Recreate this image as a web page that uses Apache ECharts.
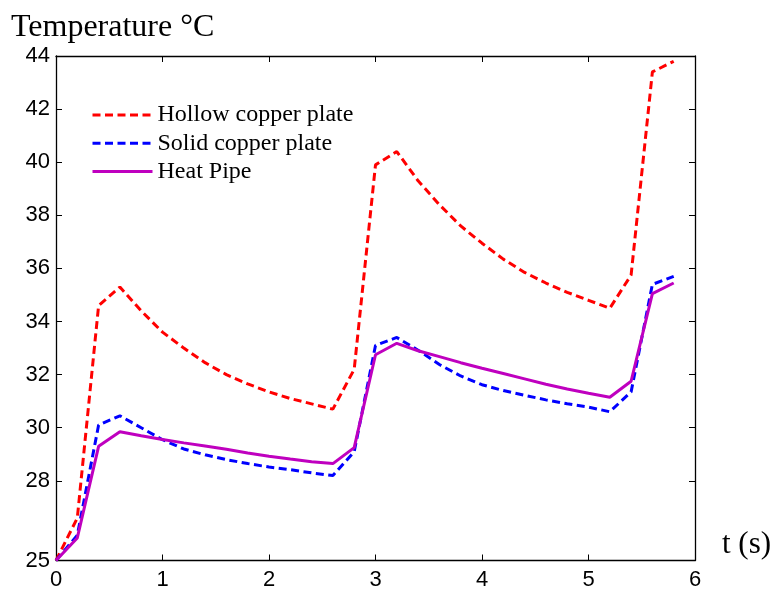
<!DOCTYPE html>
<html>
<head>
<meta charset="utf-8">
<title>Temperature vs time</title>
<script src="https://cdn.jsdelivr.net/npm/echarts@6/dist/echarts.min.js"></script>
<style>
  html, body { margin: 0; padding: 0; background: #fff; }
  #chart { width: 775px; height: 596px; }
</style>
</head>
<body>
<div id="chart"></div>
<script>
// Sample times (s)
const times = [0, 0.2, 0.4, 0.6, 0.8, 1.0, 1.2, 1.4, 1.6, 1.8, 2.0, 2.2, 2.4, 2.6, 2.8,
               3.0, 3.2, 3.4, 3.6, 3.8, 4.0, 4.2, 4.4, 4.6, 4.8, 5.0, 5.2, 5.4, 5.6, 5.8];

// Temperatures (°C)
const hollowCopper = [25.0, 26.6, 34.6, 35.3, 34.4, 33.6, 33.0, 32.45, 32.0, 31.65, 31.35, 31.1, 30.9, 30.7, 32.2,
                      39.9, 40.4, 39.3, 38.4, 37.6, 36.95, 36.35, 35.85, 35.45, 35.1, 34.8, 34.5, 35.75, 43.4, 43.8];
const solidCopper  = [25.0, 25.95, 30.1, 30.45, 30.0, 29.55, 29.2, 28.98, 28.8, 28.65, 28.52, 28.42, 28.3, 28.2, 29.1,
                      33.1, 33.4, 32.92, 32.38, 31.95, 31.62, 31.4, 31.22, 31.05, 30.9, 30.78, 30.6, 31.35, 35.4, 35.7];
const heatPipe     = [25.0, 25.85, 29.3, 29.85, 29.7, 29.56, 29.43, 29.31, 29.19, 29.05, 28.93, 28.82, 28.72, 28.65, 29.25,
                      32.75, 33.18, 32.9, 32.68, 32.45, 32.24, 32.04, 31.84, 31.64, 31.46, 31.3, 31.15, 31.75, 35.05, 35.45];

const seriesNames = ['Hollow copper plate', 'Solid copper plate', 'Heat Pipe'];
const yTickValues = [25, 28, 30, 32, 34, 36, 38, 40, 42, 44];

const pairs = (ys) => times.map((t, i) => [t, ys[i]]);

const axisLineStyle = { color: '#000', width: 1.3 };
const tickStyle = { inside: true, length: 6, lineStyle: { color: '#000', width: 1 } };
const sansLabel = { color: '#000', fontSize: 22, fontFamily: 'Liberation Sans, Arial, sans-serif' };
const dashed = [8, 4.5];

const chart = echarts.init(document.getElementById('chart'), null, { renderer: 'canvas' });

chart.setOption({
  animation: false,
  backgroundColor: '#fff',
  grid: { left: 56, right: 80, top: 56, bottom: 35.5, containLabel: false },
  legend: {
    orient: 'vertical',
    left: 91,
    top: 103,
    padding: 0,
    itemWidth: 60,
    itemHeight: 2,
    itemGap: 4.3,
    itemStyle: { color: 'transparent', borderWidth: 0, opacity: 0 },
    lineStyle: { width: 3 },
    textStyle: { color: '#000', fontSize: 24, lineHeight: 24, fontFamily: 'Liberation Serif, Times New Roman, serif' },
    data: seriesNames
  },
  xAxis: [
    {
      type: 'value', min: 0, max: 6, interval: 1, position: 'bottom',
      axisLine: { show: true, onZero: false, lineStyle: axisLineStyle },
      axisTick: tickStyle,
      axisLabel: Object.assign({ margin: 8 }, sansLabel),
      splitLine: { show: false }
    },
    {
      type: 'value', min: 0, max: 6, interval: 1, position: 'top',
      axisLine: { show: true, onZero: false, lineStyle: axisLineStyle },
      axisTick: tickStyle,
      axisLabel: { show: false },
      splitLine: { show: false }
    }
  ],
  yAxis: [
    {
      type: 'value', min: 25, max: 44, position: 'left',
      axisLine: { show: true, onZero: false, lineStyle: axisLineStyle },
      axisTick: Object.assign({ customValues: yTickValues }, tickStyle),
      axisLabel: Object.assign({ margin: 6, customValues: yTickValues }, sansLabel),
      splitLine: { show: false }
    },
    {
      type: 'value', min: 25, max: 44, position: 'right',
      axisLine: { show: true, onZero: false, lineStyle: axisLineStyle },
      axisTick: Object.assign({ customValues: yTickValues }, tickStyle),
      axisLabel: { show: false },
      splitLine: { show: false }
    }
  ],
  series: [
    {
      name: seriesNames[0], type: 'line', data: pairs(hollowCopper),
      symbol: 'none', color: '#ff0000',
      lineStyle: { color: '#ff0000', width: 3, type: dashed }
    },
    {
      name: seriesNames[1], type: 'line', data: pairs(solidCopper),
      symbol: 'none', color: '#0000ff',
      lineStyle: { color: '#0000ff', width: 3, type: dashed }
    },
    {
      name: seriesNames[2], type: 'line', data: pairs(heatPipe),
      symbol: 'none', color: '#bf00bf',
      lineStyle: { color: '#bf00bf', width: 3 }
    }
  ],
  graphic: [
    {
      type: 'text', left: 11, top: 12,
      style: { text: 'Temperature °C', fill: '#000', font: '32px "Liberation Serif", "Times New Roman", serif' }
    },
    {
      type: 'text', left: 722, top: 529,
      style: { text: 't (s)', fill: '#000', font: '31px "Liberation Serif", "Times New Roman", serif' }
    }
  ]
});
</script>
</body>
</html>
